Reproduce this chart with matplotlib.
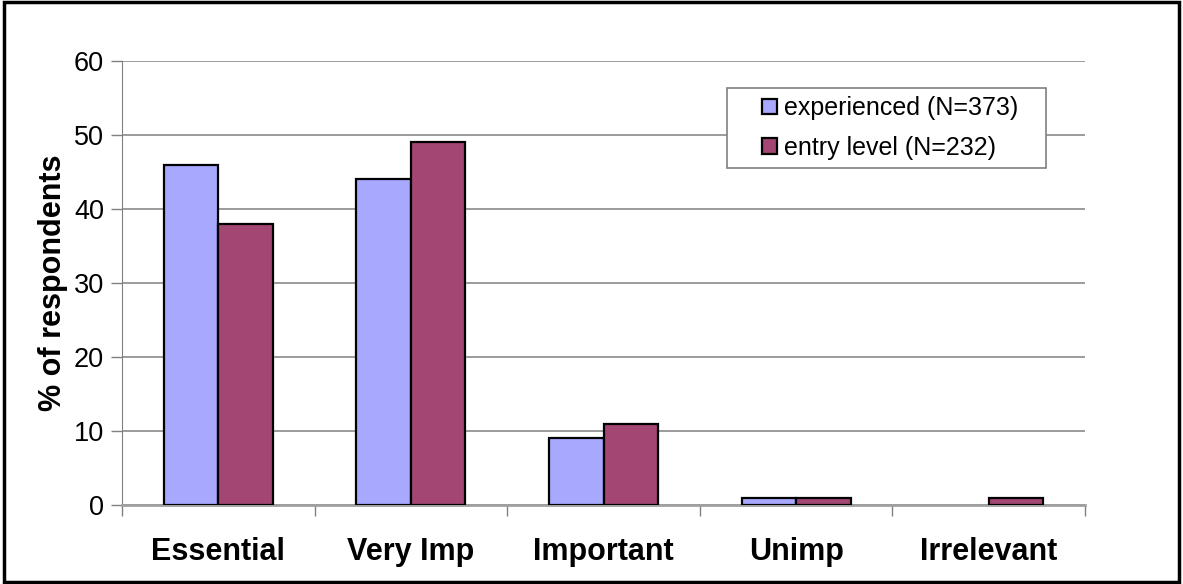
import numpy as np
import matplotlib.pyplot as plt
from matplotlib.patches import Rectangle

plt.rcParams['font.family'] = ['Liberation Sans', 'DejaVu Sans']

categories = ['Essential', 'Very Imp', 'Important', 'Unimp', 'Irrelevant']
experienced = [46, 44, 9, 1, 0]
entry_level = [38, 49, 11, 1, 1]

x = np.arange(len(categories))
w = 0.283

fig = plt.figure(figsize=(11.83, 5.84), dpi=100)
ax = fig.add_axes([0.1031, 0.1353, 0.8141, 0.7602])

# empty bars get no outline
def edges(vals):
    return ['black' if v > 0 else 'none' for v in vals]

ax.bar(x - w / 2, experienced, w, color='#A8A8FF', edgecolor=edges(experienced),
       linewidth=1.6, label='experienced (N=373)', zorder=3)
ax.bar(x + w / 2, entry_level, w, color='#A34673', edgecolor=edges(entry_level),
       linewidth=1.6, label='entry level (N=232)', zorder=3)

ax.set_xlim(-0.5, len(categories) - 0.5)
ax.set_ylim(0, 60)
ax.set_yticks(range(0, 61, 10))
ax.yaxis.grid(True, color='#808080', linewidth=1.1, zorder=0)

# category labels between the boundary ticks
ax.set_xticks(np.arange(-0.5, len(categories) - 0.4, 1))
ax.set_xticklabels([])
ax.set_xticks(x, minor=True)
ax.set_xticklabels(categories, minor=True, fontsize=22, fontweight='bold')
ax.tick_params(axis='x', which='minor', length=0, pad=23)
ax.tick_params(axis='x', which='major', length=8, color='#808080', width=1)
ax.tick_params(axis='y', length=8, color='#808080', width=1, labelsize=19.5, pad=5)

for side in ['top', 'right']:
    ax.spines[side].set_visible(False)
ax.spines['left'].set_color('#808080')
ax.spines['bottom'].set_color('#A0A0A0')
ax.spines['bottom'].set_linewidth(2)

ax.set_ylabel('% of respondents', fontsize=22, fontweight='bold', labelpad=4)

# legend box drawn separately so it can be wider than tall padding allows
ax.add_patch(Rectangle((0.628, 0.759), 0.3315, 0.18, transform=ax.transAxes,
                       facecolor='white', edgecolor='#808080', linewidth=1.2,
                       zorder=4, clip_on=False))
leg = ax.legend(loc='center left', bbox_to_anchor=(0.652, 0.849), fontsize=18,
                frameon=False, handlelength=0.6, handleheight=0.6,
                handletextpad=0.25, borderpad=0, labelspacing=0.62)
leg.set_zorder(5)

fig.patches.append(Rectangle((0.003, 0.003), 0.994, 0.994, transform=fig.transFigure,
                             fill=False, edgecolor='black', linewidth=2.5))

fig.savefig('out.png', dpi=100)
